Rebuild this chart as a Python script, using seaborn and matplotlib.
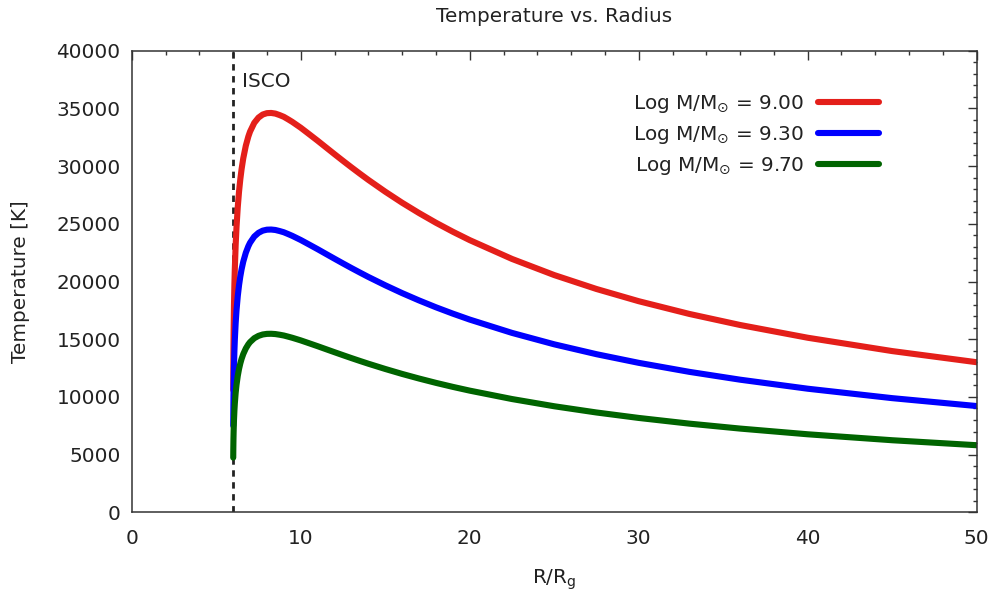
import numpy as np
import pandas as pd
import matplotlib
matplotlib.use("Agg")
import matplotlib.pyplot as plt
from matplotlib.ticker import MultipleLocator
import seaborn as sns

# Radius in units of R_g, sampled densely near the inner edge and the peak
radius = [6.006, 6.01, 6.02, 6.03, 6.05, 6.075, 6.1, 6.15, 6.2, 6.275,
          6.35, 6.425, 6.5, 6.6, 6.75, 6.9, 7.0, 7.25, 7.5, 7.75,
          8.0, 8.25, 8.5, 8.75, 9.0, 9.25, 9.5, 10, 10.5, 11,
          11.5, 12, 12.5, 13, 13.5, 14, 15, 16, 17, 18,
          19, 20, 22.5, 25, 27.5, 30, 33, 36, 40, 45,
          50]

# Disk temperature [K] for each black-hole mass
temp_m900 = [10603, 12036, 14291, 15792, 17884, 19719, 21104, 23182, 24719, 26471,
             27804, 28867, 29740, 30682, 31764, 32567, 32988, 33748, 34204, 34471,
             34590, 34608, 34552, 34424, 34272, 34058, 33834, 33328, 32767, 32202,
             31618, 31035, 30460, 29896, 29346, 28808, 27787, 26827, 25934, 25095,
             24316, 23588, 21959, 20560, 19353, 18295, 17190, 16233, 15129, 13973,
             13007]
temp_m930 = [7508, 8522, 10119, 11182, 12663, 13963, 14944, 16415, 17503, 18744,
             19688, 20441, 21059, 21725, 22492, 23060, 23359, 23897, 24219, 24409,
             24493, 24505, 24466, 24375, 24268, 24116, 23958, 23599, 23202, 22802,
             22388, 21976, 21569, 21169, 20780, 20398, 19676, 18996, 18363, 17769,
             17218, 16702, 15549, 14559, 13703, 12954, 12172, 11494, 10712, 9894,
             9210]
temp_m970 = [4740, 5381, 6389, 7060, 7995, 8816, 9435, 10364, 11051, 11834,
             12430, 12905, 13296, 13716, 14200, 14559, 14748, 15088, 15291, 15411,
             15464, 15472, 15447, 15390, 15322, 15226, 15126, 14900, 14649, 14396,
             14135, 13875, 13618, 13365, 13119, 12879, 12423, 11993, 11594, 11219,
             10871, 10545, 9817, 9192, 8652, 8179, 7685, 7257, 6763, 6247,
             5815]

series_labels = [r"Log M/M$_{\odot}$ = 9.00",
                 r"Log M/M$_{\odot}$ = 9.30",
                 r"Log M/M$_{\odot}$ = 9.70"]
series_colors = ["#e41f1a", "#0000ff", "#006400"]
isco_radius = 6.0

frames = []
for lab, temps in zip(series_labels, [temp_m900, temp_m930, temp_m970]):
    frames.append(pd.DataFrame({"r": radius, "T": temps, "mass": lab}))
df = pd.concat(frames, ignore_index=True)

sns.set_style("white")
plt.rcParams["font.family"] = ["DejaVu Sans"]
plt.rcParams["mathtext.fontset"] = "dejavusans"
text_color = "#222222"
fs = 14.4

fig = plt.figure(figsize=(9.95, 5.94), dpi=100)
ax = fig.add_axes([0.1324, 0.1375, 0.8492, 0.7771])

sns.lineplot(data=df, x="r", y="T", hue="mass", hue_order=series_labels,
             palette=series_colors, linewidth=4.4, ax=ax, sort=False,
             estimator=None, legend=True, solid_joinstyle="round")

ax.axvline(isco_radius, color="#222222", lw=2.0, ls=(0, (2.3, 2.0)), zorder=1)
ax.text(6.5, 37300, "ISCO", ha="left", va="center", fontsize=fs,
        color=text_color)

ax.set_xlim(0, 50)
ax.set_ylim(0, 40000)
ax.xaxis.set_major_locator(MultipleLocator(10))
ax.xaxis.set_minor_locator(MultipleLocator(2))
ax.yaxis.set_major_locator(MultipleLocator(5000))
ax.yaxis.set_minor_locator(MultipleLocator(1000))
ax.tick_params(which="both", direction="in", top=True, right=True,
               color="#333333", width=1.0)
ax.tick_params(which="major", length=6.5, labelsize=fs, labelcolor=text_color)
ax.tick_params(axis="y", which="major", pad=8)
ax.tick_params(axis="x", which="major", pad=12)
ax.tick_params(which="minor", length=3.2)
for sp in ax.spines.values():
    sp.set_visible(True)
    sp.set_color("#333333")
    sp.set_linewidth(1.1)

ax.set_xlabel(r"R/R$_\mathrm{g}$", fontsize=fs, color=text_color, labelpad=14)
ax.set_ylabel("Temperature [K]", fontsize=fs, color=text_color, labelpad=19)
fig.text(0.557, 1 - 16.5 / 594, "Temperature vs. Radius", fontsize=fs,
         color=text_color, ha="center", va="center")

handles, labels = ax.get_legend_handles_labels()
leg = ax.legend(handles, labels, loc="upper right",
                bbox_to_anchor=(0.8834, 1 - 93 / 594), bbox_transform=fig.transFigure,
                frameon=False, markerfirst=False, fontsize=fs,
                handlelength=3.05, handletextpad=0.7, labelspacing=0.45,
                borderpad=0, borderaxespad=0)
for t in leg.get_texts():
    t.set_color(text_color)
for h in leg.get_lines():
    h.set_linewidth(4.4)

fig.savefig("out.png", dpi=100, facecolor="white")
